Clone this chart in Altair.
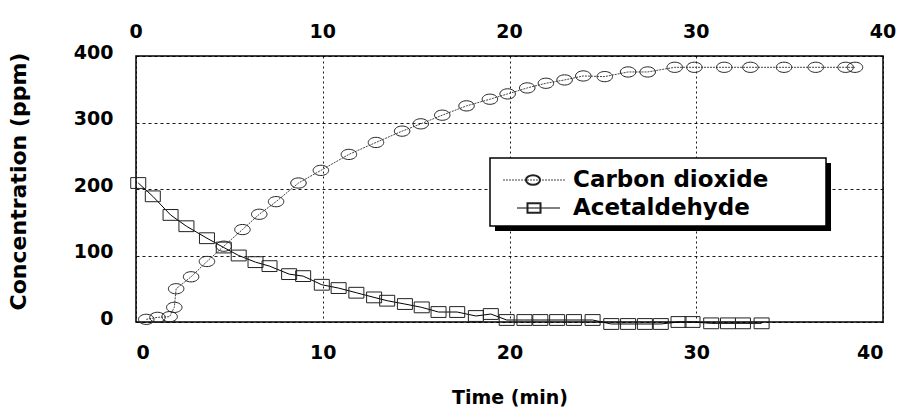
import altair as alt
import pandas as pd

# ---- data ----
series_names = ["Carbon dioxide", "Acetaldehyde"]

co2_time = [0.55, 1.15, 1.8, 2.05, 2.15, 2.95, 3.8, 4.7, 5.7, 6.6, 7.5, 8.7, 9.9,
            11.4, 12.85, 14.25, 15.25, 16.4, 17.7, 18.95, 19.9, 20.95, 21.95,
            22.95, 23.95, 25.1, 26.35, 27.4, 28.85, 29.9, 31.5, 32.9, 34.7,
            36.4, 38.0, 38.5]
co2_conc = [4, 7, 8, 22, 50, 68, 91, 114, 139, 162, 181, 209, 228,
            252, 270, 287, 298, 311, 325, 335, 343, 352, 359,
            364, 370, 369, 376, 376, 383, 383, 383, 383, 383,
            383, 383, 383]

acet_time = [0.12, 0.9, 1.85, 2.7, 3.8, 4.7, 5.5, 6.4, 7.15, 8.2, 8.95, 9.95,
             10.85, 11.8, 12.75, 13.45, 14.4, 15.3, 16.2, 17.2, 18.2, 19.0,
             19.85, 20.8, 21.65, 22.55, 23.45, 24.45, 25.45, 26.35, 27.25,
             28.1, 29.05, 29.8, 30.8, 31.7, 32.5, 33.5]
acet_conc = [209, 189, 161, 144, 126, 112, 100, 90, 84, 72, 69, 56,
             51, 44, 37, 32, 27, 22, 15, 15, 9, 12,
             3, 3, 3, 3, 3, 3, -3, -3, -3,
             -3, 0, 0, -2, -2, -2, -2]

x_ticks = [0, 10, 20, 30, 40]
y_ticks = [0, 100, 200, 300, 400]
x_title = "Time (min)"
y_title = "Concentration (ppm)"

FONT = "DejaVu Sans"
LABEL_SIZE = 19
ELLIPSE = "M -1 0 A 1 0.66 0 1 1 1 0 A 1 0.66 0 1 1 -1 0 Z"
RECT = "M -1 -0.72 L 1 -0.72 L 1 0.72 L -1 0.72 Z"

co2 = pd.DataFrame({"time": co2_time, "conc": co2_conc})
acet = pd.DataFrame({"time": acet_time, "conc": acet_conc})
tops = pd.DataFrame({"time": x_ticks})
one = pd.DataFrame({"k": [0]})

xscale = alt.Scale(domain=[0, 40], nice=False)
yscale = alt.Scale(domain=[0, 400], nice=False)

x_axis = alt.Axis(values=x_ticks, format="d", ticks=False, tickSize=0, domain=False,
                  grid=True, gridDash=[2, 3], gridColor="black", gridWidth=1,
                  labelPadding=21, title=x_title, titleY=75, titleBaseline="middle",
                  titleFontSize=19)
y_axis = alt.Axis(values=y_ticks, format="d", ticks=False, tickSize=0, domain=False,
                  grid=True, gridDash=[3, 3], gridColor="black", gridWidth=1,
                  labelPadding=23, labelOffset=-4, title=y_title,
                  titleX=-118, titleY=125, titleAngle=270, titleAlign="center",
                  titleBaseline="middle", titleFontSize=22)

X = alt.X("time:Q", scale=xscale, axis=x_axis)
Y = alt.Y("conc:Q", scale=yscale, axis=y_axis)

co2_line = alt.Chart(co2).mark_line(color="#444444", strokeWidth=1,
                                    strokeDash=[2, 1]).encode(x=X, y=Y)
co2_pts = alt.Chart(co2).mark_point(shape=ELLIPSE, size=240, filled=False,
                                    color="#222222", strokeWidth=1,
                                    opacity=1).encode(x=X, y=Y)
acet_line = alt.Chart(acet).mark_line(color="black", strokeWidth=1).encode(x=X, y=Y)
acet_pts = alt.Chart(acet).mark_point(shape=RECT, size=225, filled=False,
                                      color="#222222", strokeWidth=1,
                                      opacity=1).encode(x=X, y=Y)

top_labels = alt.Chart(tops).mark_text(font=FONT, fontSize=LABEL_SIZE, fontWeight="bold",
                                       color="black", baseline="middle").encode(
    x=alt.X("time:Q", scale=xscale, axis=x_axis),
    y=alt.value(-24),
    text=alt.Text("time:Q", format="d"),
)

# ---- legend box (drawn by hand, with its drop shadow) ----
shadow = alt.Chart(one).mark_rect(color="black").encode(
    x=alt.value(359), x2=alt.value(695), y=alt.value(107), y2=alt.value(175))
box = alt.Chart(one).mark_rect(fill="white", stroke="black", strokeWidth=1.5).encode(
    x=alt.value(354), x2=alt.value(690), y=alt.value(102), y2=alt.value(170))
leg_line1 = alt.Chart(one).mark_rule(color="#444444", strokeWidth=1,
                                     strokeDash=[2, 1]).encode(
    x=alt.value(367), x2=alt.value(429), y=alt.value(124))
leg_sym1 = alt.Chart(one).mark_point(shape=ELLIPSE, size=200, filled=False,
                                     color="#222222", opacity=1).encode(
    x=alt.value(397), y=alt.value(124))
leg_line2 = alt.Chart(one).mark_rule(color="black", strokeWidth=1).encode(
    x=alt.value(381), x2=alt.value(424), y=alt.value(152))
leg_sym2 = alt.Chart(one).mark_point(shape=RECT, size=170, filled=False,
                                     color="#222222", opacity=1).encode(
    x=alt.value(398), y=alt.value(152))
leg_txt1 = alt.Chart(one).mark_text(font=FONT, fontSize=23, fontWeight="bold",
                                    align="left", baseline="middle",
                                    color="black").encode(
    x=alt.value(437), y=alt.value(124), text=alt.value(series_names[0]))
leg_txt2 = alt.Chart(one).mark_text(font=FONT, fontSize=23, fontWeight="bold",
                                    align="left", baseline="middle",
                                    color="black").encode(
    x=alt.value(437), y=alt.value(152), text=alt.value(series_names[1]))

chart = alt.layer(
    co2_line, acet_line, co2_pts, acet_pts, top_labels,
    shadow, box, leg_line1, leg_sym1, leg_line2, leg_sym2, leg_txt1, leg_txt2,
).properties(
    width=747, height=266,
    autosize=alt.AutoSizeParams(type="none"),
    padding={"left": 136, "top": 56, "right": 16, "bottom": 92},
    background="white",
).configure_view(
    stroke="black", strokeWidth=1.5,
).configure_axis(
    labelFont=FONT, labelFontSize=LABEL_SIZE, labelFontWeight="bold", labelColor="black",
    titleFont=FONT, titleFontWeight="bold", titleColor="black",
    gridOpacity=0.9,
)

chart.save("out.html", embed_options={"renderer": "svg", "actions": False})
